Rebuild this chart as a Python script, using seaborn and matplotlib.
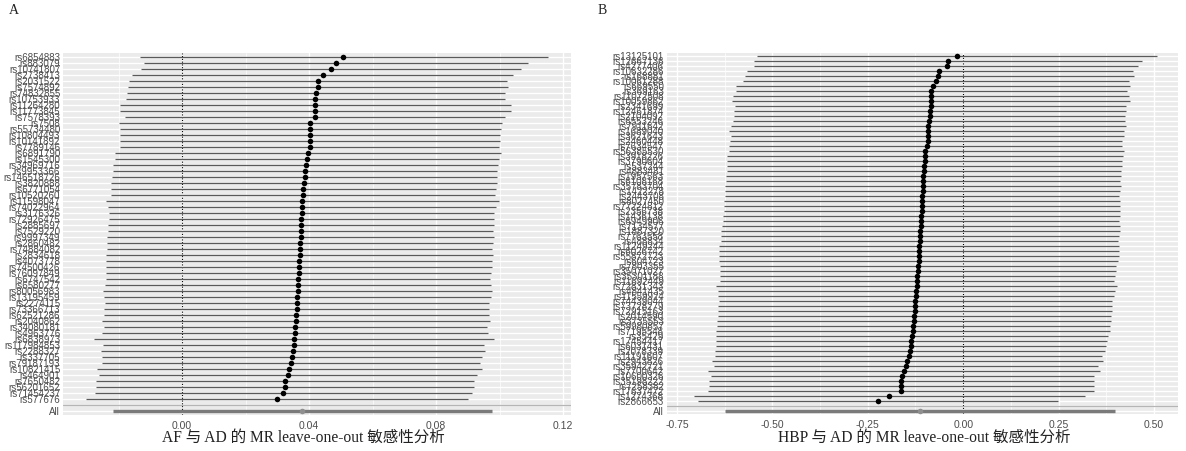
import numpy as np
import pandas as pd
import matplotlib
matplotlib.use("Agg")
import matplotlib.pyplot as plt
import seaborn as sns

# ---- Panel A: AF -> AD leave-one-out ----
snp_a = ["rs6854883", "rs883079", "rs10741807", "rs2738413", "rs2031522", "rs7574892",
         "rs74832855", "rs10753933", "rs11264280", "rs11773845", "rs7578393", "rs7508",
         "rs55734480", "rs10804493", "rs10141892", "rs7789146", "rs6891790", "rs1545300",
         "rs34969716", "rs9953366", "rs146518726", "rs3820888", "rs6771054", "rs10520260",
         "rs11598047", "rs74022964", "rs3176326", "rs72926475", "rs2885697", "rs7529220",
         "rs9997349", "rs2860482", "rs74884082", "rs2834618", "rs4073778", "rs74500426",
         "rs76097849", "rs6747542", "rs6580277", "rs80056983", "rs13195459", "rs2274115",
         "rs73366713", "rs62521286", "rs2040862", "rs34080181", "rs4963776", "rs6838973",
         "rs117984853", "rs2288327", "rs337705", "rs79187193", "rs10821415", "rs464901",
         "rs7650482", "rs56201652", "rs71454237", "rs577676"]
b_a = [0.0508, 0.0484, 0.0468, 0.0443, 0.0428, 0.0428, 0.0421, 0.0420, 0.0420, 0.0420,
       0.0418, 0.0404, 0.0404, 0.0403, 0.0403, 0.0402, 0.0396, 0.0393, 0.0390, 0.0388,
       0.0386, 0.0384, 0.0382, 0.0380, 0.0379, 0.0378, 0.0377, 0.0376, 0.0375, 0.0374,
       0.0373, 0.0372, 0.0371, 0.0370, 0.0369, 0.0368, 0.0367, 0.0366, 0.0365, 0.0364,
       0.0363, 0.0362, 0.0361, 0.0360, 0.0359, 0.0357, 0.0355, 0.0353, 0.0351, 0.0349,
       0.0346, 0.0342, 0.0338, 0.0333, 0.0324, 0.0324, 0.0319, 0.0300]
lo_a = [-0.0132, -0.0120, -0.0130, -0.0157, -0.0167, -0.0169, -0.0174, -0.0176, -0.0195, -0.0195,
        -0.0180, -0.0198, -0.0195, -0.0195, -0.0195, -0.0195, -0.0211, -0.0211, -0.0216, -0.0216,
        -0.0220, -0.0224, -0.0224, -0.0224, -0.0239, -0.0233, -0.0229, -0.0231, -0.0232, -0.0232,
        -0.0235, -0.0235, -0.0235, -0.0239, -0.0239, -0.0239, -0.0239, -0.0239, -0.0242, -0.0248,
        -0.0246, -0.0242, -0.0246, -0.0246, -0.0252, -0.0246, -0.0253, -0.0276, -0.0248, -0.0255,
        -0.0252, -0.0253, -0.0268, -0.0262, -0.0271, -0.0271, -0.0275, -0.0302]
up_a = [0.1152, 0.1088, 0.1066, 0.1043, 0.1023, 0.1025, 0.1016, 0.1016, 0.1035, 0.1035,
        0.1016, 0.1006, 0.1003, 0.1001, 0.1001, 0.0999, 0.1003, 0.0997, 0.0996, 0.0992,
        0.0992, 0.0992, 0.0988, 0.0984, 0.0997, 0.0989, 0.0983, 0.0983, 0.0982, 0.0980,
        0.0981, 0.0979, 0.0977, 0.0979, 0.0977, 0.0975, 0.0973, 0.0971, 0.0972, 0.0976,
        0.0972, 0.0966, 0.0968, 0.0966, 0.0970, 0.0960, 0.0963, 0.0982, 0.0950, 0.0953,
        0.0944, 0.0937, 0.0944, 0.0928, 0.0919, 0.0919, 0.0913, 0.0902]
all_a = (0.0379, -0.0217, 0.0975)  # b, lo, up

# ---- Panel B: HBP -> AD leave-one-out ----
snp_b = ["rs13125101", "rs12667136", "rs4277406", "rs10632286", "rs168881", "rs10061288",
         "rs669550", "rs369163", "rs11072508", "rs10059862", "rs2341699", "rs12461874",
         "rs2104092", "rs6553246", "rs7911642", "rs1689040", "rs3621643", "rs2460448",
         "rs7634547", "rs56385530", "rs3918226", "rs3790604", "rs537244", "rs4883481",
         "rs1957563", "rs6108168", "rs35783704", "rs1422278", "rs2443708", "rs8027450",
         "rs77224812", "rs2356738", "rs1436138", "rs6949906", "rs7134577", "rs1887320",
         "rs7763558", "rs488834", "rs11249244", "rs6026742", "rs55872723", "rs604723",
         "rs7803355", "rs35071027", "rs35301188", "rs11692449", "rs72831343", "rs4841435",
         "rs11559924", "rs74439044", "rs73728279", "rs72915163", "rs2014590", "rs3735553",
         "rs59980857", "rs7195548", "rs35429", "rs17454417", "rs6031431", "rs2078339",
         "rs11191607", "rs2943826", "rs35942721", "rs7700642", "rs10600326", "rs35198222",
         "rs7258382", "rs17637472", "rs1274368", "rs2866653"]
b_b = [-0.017, -0.040, -0.043, -0.063, -0.065, -0.072, -0.080, -0.084, -0.084, -0.085,
       -0.085, -0.086, -0.088, -0.089, -0.092, -0.092, -0.093, -0.093, -0.096, -0.100,
       -0.100, -0.101, -0.102, -0.103, -0.104, -0.105, -0.105, -0.106, -0.107, -0.108,
       -0.108, -0.109, -0.110, -0.111, -0.111, -0.112, -0.113, -0.114, -0.115, -0.115,
       -0.116, -0.117, -0.118, -0.119, -0.120, -0.121, -0.122, -0.123, -0.124, -0.125,
       -0.126, -0.127, -0.128, -0.129, -0.131, -0.132, -0.134, -0.136, -0.138, -0.140,
       -0.143, -0.146, -0.150, -0.155, -0.160, -0.162, -0.162, -0.163, -0.194, -0.224]
lo_b = [-0.541, -0.549, -0.547, -0.567, -0.573, -0.578, -0.595, -0.595, -0.604, -0.606,
        -0.597, -0.600, -0.600, -0.604, -0.608, -0.613, -0.608, -0.611, -0.613, -0.614,
        -0.619, -0.619, -0.619, -0.619, -0.621, -0.621, -0.623, -0.623, -0.623, -0.628,
        -0.626, -0.628, -0.630, -0.630, -0.632, -0.634, -0.634, -0.634, -0.639, -0.639,
        -0.641, -0.640, -0.637, -0.638, -0.638, -0.638, -0.648, -0.643, -0.643, -0.641,
        -0.643, -0.643, -0.643, -0.646, -0.646, -0.648, -0.648, -0.649, -0.649, -0.651,
        -0.651, -0.658, -0.654, -0.669, -0.662, -0.667, -0.667, -0.669, -0.706, -0.696]
up_b = [0.507, 0.469, 0.458, 0.446, 0.447, 0.435, 0.437, 0.430, 0.435, 0.437,
        0.427, 0.427, 0.424, 0.424, 0.427, 0.421, 0.421, 0.415, 0.416, 0.421,
        0.419, 0.417, 0.415, 0.413, 0.413, 0.411, 0.413, 0.411, 0.409, 0.412,
        0.410, 0.410, 0.410, 0.408, 0.410, 0.410, 0.408, 0.406, 0.409, 0.409,
        0.409, 0.406, 0.401, 0.400, 0.398, 0.396, 0.404, 0.397, 0.395, 0.391,
        0.391, 0.389, 0.387, 0.388, 0.384, 0.384, 0.380, 0.377, 0.373, 0.371,
        0.365, 0.366, 0.354, 0.359, 0.342, 0.343, 0.343, 0.343, 0.319, 0.249]
all_b = (-0.114, -0.623, 0.398)

captions = ["AF 与 AD 的 MR leave-one-out 敏感性分析",
            "HBP 与 AD 的 MR leave-one-out 敏感性分析"]


def loo_frame(snps, b, lo, up, tot):
    df = pd.DataFrame({"SNP": snps, "b": b, "lo": lo, "up": up})
    # top row gets highest position; row 2 left blank, "All" at 1
    df["pos"] = np.arange(len(df) + 2, 2, -1)
    tot_row = pd.DataFrame({"SNP": ["All"], "b": [tot[0]], "lo": [tot[1]],
                            "up": [tot[2]], "pos": [1]})
    df["kind"] = "snp"
    tot_row["kind"] = "all"
    return pd.concat([df, tot_row], ignore_index=True)


def loo_plot(ax, df, xlim, major, minor):
    n = int(df["pos"].max())
    ax.set_facecolor("#EBEBEB")
    for x in minor:
        ax.axvline(x, color="white", lw=0.5, zorder=0)
    for x in major:
        ax.axvline(x, color="white", lw=1.0, zorder=0)
    for y in range(1, n + 1):
        ax.axhline(y, color="white", lw=1.0, zorder=0)
    ax.axvline(0, color="black", lw=0.8, ls=(0, (1, 1.5)), zorder=1)

    snp = df[df["kind"] == "snp"]
    tot = df[df["kind"] == "all"]
    ax.hlines(snp["pos"], snp["lo"], snp["up"], color="#5a5a5a", lw=0.9, zorder=2)
    ax.hlines(tot["pos"], tot["lo"], tot["up"], color="#7a7a7a", lw=2.4, zorder=2)
    ax.axhline(2, color="#b5b5b5", lw=0.9, zorder=1)
    sns.scatterplot(data=snp, x="b", y="pos", color="black", s=16, linewidth=0,
                    ax=ax, zorder=3, legend=False)
    sns.scatterplot(data=tot, x="b", y="pos", color="#8f8f8f", s=16, linewidth=0,
                    ax=ax, zorder=3, legend=False)

    ax.set_xlim(*xlim)
    ax.set_ylim(0.4, n + 0.6)
    ax.set_xticks(major)
    ax.set_xticklabels([f"{v:.2f}" for v in major])
    ax.set_yticks(df["pos"])
    ax.set_yticklabels(df["SNP"])
    ax.grid(False)
    ax.tick_params(axis="x", colors="#333333", length=3, width=0.6, labelsize=7.5,
                   labelcolor="#4D4D4D", pad=1.5)
    ax.tick_params(axis="y", length=0, labelsize=7, labelcolor="#4D4D4D", pad=2)
    for lab in ax.get_yticklabels() + ax.get_xticklabels():
        lab.set_family("Liberation Sans")
    ax.set_xlabel("")
    ax.set_ylabel("")
    for s in ax.spines.values():
        s.set_visible(False)


sns.set_theme(style="darkgrid")
plt.rcParams["font.family"] = ["Liberation Sans", "Noto Sans CJK SC", "DejaVu Sans"]

fig = plt.figure(figsize=(11.86, 4.51), dpi=100)
ax_a = fig.add_axes([0.0531, 0.0807, 0.4284, 0.8018])
ax_b = fig.add_axes([0.5621, 0.0820, 0.4312, 0.8004])

df_a = loo_frame(snp_a, b_a, lo_a, up_a, all_a)
df_b = loo_frame(snp_b, b_b, lo_b, up_b, all_b)

loo_plot(ax_a, df_a, (-0.0375, 0.1225), [0.00, 0.04, 0.08, 0.12],
         [-0.02, 0.02, 0.06, 0.10])
loo_plot(ax_b, df_b, (-0.777, 0.563), [-0.75, -0.50, -0.25, 0.00, 0.25, 0.50],
         [-0.625, -0.375, -0.125, 0.125, 0.375])

cap_font = ["Liberation Serif", "Noto Sans CJK SC"]
fig.text(0.2555, 0.030, captions[0], ha="center", va="center", fontsize=11.2,
         family=cap_font, color="#222222")
fig.text(0.779, 0.030, captions[1], ha="center", va="center", fontsize=11.2,
         family=cap_font, color="#222222")
fig.text(0.012, 0.976, "A", ha="center", va="center", fontsize=10,
         family=cap_font, color="#222222")
fig.text(0.508, 0.976, "B", ha="center", va="center", fontsize=10,
         family=cap_font, color="#222222")

fig.savefig("out.png", dpi=100)
